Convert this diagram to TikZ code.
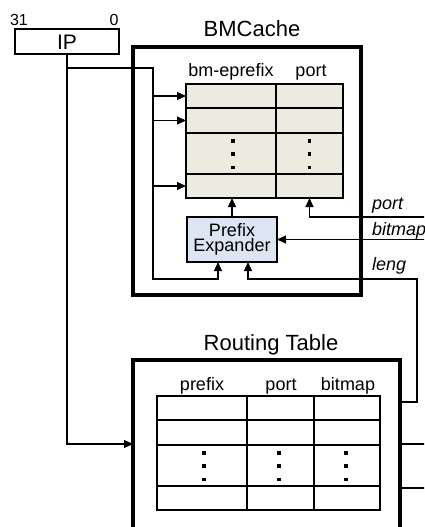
\documentclass[tikz,border=0pt]{standalone}
\usepackage{fontspec}
\setmainfont{Liberation Sans}
\usetikzlibrary{arrows.meta,calc}
\definecolor{cellbeige}{RGB}{237,235,224}
\definecolor{peblue}{RGB}{220,230,242}
\begin{document}
\begin{tikzpicture}[x=1pt,y=-1pt,
  bigbox/.style={draw, line width=3.5pt, inner sep=0pt, outer sep=0pt, anchor=north west},
  cellbox/.style={draw, line width=1.3pt, inner sep=0pt, outer sep=0pt, anchor=north west},
  conn/.style={line width=1.1pt},
  arr/.style={conn, -{Triangle[length=9pt,width=8pt]}},
  titletext/.style={font=\fontsize{22}{24}\selectfont, anchor=base, inner sep=0pt},
  headtext/.style={font=\fontsize{18}{20}\selectfont, anchor=base, inner sep=0pt},
  sigtext/.style={font=\fontsize{18}{20}\selectfont\itshape, anchor=base west, inner sep=0pt},
  bittext/.style={font=\fontsize{16}{18}\selectfont, anchor=base, inner sep=0pt}
]
\clip (0,0) rectangle (424,527);
\fill[white] (0,0) rectangle (424,527);

% IP register
\node[draw, line width=1.2pt, inner sep=0pt, outer sep=0pt, anchor=north west,
      minimum width=104pt, minimum height=25pt] (ip) at (15,29) {};
\node[headtext, font=\fontsize{21}{23}\selectfont] (iplabel) at (67,50) {IP};
\node[bittext] (b31) at (19,26) {31};
\node[bittext] (b0) at (114,26) {0};

% BMCache
\node[titletext] (bmtitle) at (252,37) {BMCache};
\node[bigbox, minimum width=228pt, minimum height=248pt] (bm) at (133,47) {};
\node[headtext] (bmh1) at (231,77) {bm-eprefix};
\node[headtext] (bmh2) at (311,77) {port};
\foreach \r/\ya/\h in {1/84/24,2/108/25,3/133/41,4/174/24}{
  \node[cellbox, fill=cellbeige, minimum width=90pt, minimum height=\h pt] (b\r1) at (186,\ya) {};
  \node[cellbox, fill=cellbeige, minimum width=67pt, minimum height=\h pt] (b\r2) at (276,\ya) {};
}
\foreach \x in {233,309.5}{
  \foreach \y in {141,154,167.5}{
    \fill (\x-1.6,\y-1.6) rectangle ++(3.2,3.2);
  }
}
\node[draw, line width=1.3pt, fill=peblue, inner sep=0pt, outer sep=0pt, anchor=north west,
      minimum width=90pt, minimum height=45pt, align=center,
      font=\fontsize{18}{15}\selectfont] (pe) at (187,217) {Prefix\\Expander};

% Routing table
\node[titletext] (rttitle) at (271,350) {Routing Table};
\node[bigbox, minimum width=267pt, minimum height=220pt] (rt) at (133,360) {};
\node[headtext] (rth1) at (202,390) {prefix};
\node[headtext] (rth2) at (281,390) {port};
\node[headtext] (rth3) at (348,390) {bitmap};
\foreach \r/\ya/\h in {1/396/24,2/420/25,3/445/41,4/486/24}{
  \node[cellbox, minimum width=90pt, minimum height=\h pt] (r\r1) at (157,\ya) {};
  \node[cellbox, minimum width=67pt, minimum height=\h pt] (r\r2) at (247,\ya) {};
  \node[cellbox, minimum width=66pt, minimum height=\h pt] (r\r3) at (314,\ya) {};
}
\foreach \x in {204,279,346}{
  \foreach \y in {453,466,479.5}{
    \fill (\x-1.6,\y-1.6) rectangle ++(3.2,3.2);
  }
}

% signal labels
\node[sigtext] (lport) at (372,209) {port};
\node[sigtext] (lbitmap) at (372,235) {bitmap};
\node[sigtext] (lleng) at (372,270) {leng};

% connectors
\coordinate (ipbranch) at (ip.south |- 0,68);
\coordinate (bus) at (153,68);
\coordinate (busend) at (153,279);
\coordinate (portin) at (430,217);
\coordinate (bitmapin) at (430,239.5);
\coordinate (lengturn) at (417,279);

\draw[arr] (ip.south) |- (rt.west |- 0,444);
\draw[arr] (ipbranch) -- (bus) -- (busend) -| ($(pe.south)+(-14,0)$);
\draw[arr] (b11.west -| bus) -- (b11.west);
\draw[arr] (b21.west -| bus) -- (b21.west);
\draw[arr] (b41.west -| bus) -- (b41.west);
\draw[arr] (pe.north) -- (pe.north |- b41.south);
\draw[arr] (portin) -| (b42.south);
\draw[arr] (pe.east -| bitmapin) -- (pe.east);
\draw[arr] (rt.east |- 0,402) -| (lengturn) -| ($(pe.south)+(16,0)$);
\draw[conn] (rt.east |- 0,444) -- (430,444);
\draw[conn] (rt.east |- 0,488) -- (430,488);
\end{tikzpicture}
\end{document}
